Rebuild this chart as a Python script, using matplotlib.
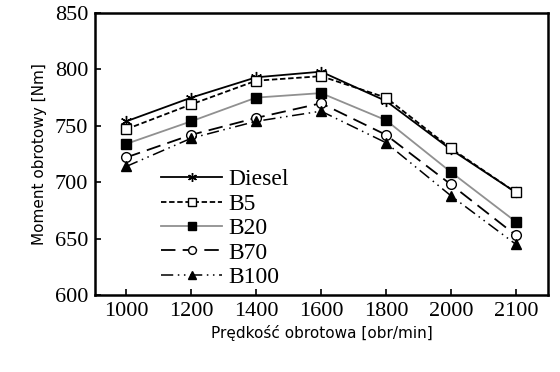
import matplotlib
matplotlib.use("Agg")
import matplotlib.pyplot as plt

# engine speed categories [obr/min]
speeds = ["1000", "1200", "1400", "1600", "1800", "2000", "2100"]

# torque [Nm]
diesel = [754, 775, 793, 798, 772, 729, 691]
b5     = [747, 769, 790, 794, 775, 730, 691]
b20    = [734, 754, 775, 779, 755, 709, 665]
b70    = [722, 742, 757, 770, 742, 698, 653]
b100   = [714, 739, 754, 763, 735, 688, 645]

fig = plt.figure(figsize=(5.6, 3.72), dpi=100)
ax = fig.add_axes([0.170, 0.207, 0.809, 0.758])

x = list(range(len(speeds)))
serif = "Liberation Serif"

ax.plot(x, diesel, color="black", lw=1.3, ls="-",
        marker=(6, 2, 0), ms=8, mew=1.0, label="Diesel")
ax.plot(x, b5, color="black", lw=1.3, ls=(0, (3, 1.5)),
        marker="s", ms=7, mfc="white", mec="black", mew=1.0, label="B5")
ax.plot(x, b20, color="#909090", lw=1.3, ls="-",
        marker="s", ms=7, mfc="black", mec="black", label="B20")
ax.plot(x, b70, color="black", lw=1.3, ls=(0, (8, 4)),
        marker="o", ms=7, mfc="white", mec="black", mew=1.0, label="B70")
ax.plot(x, b100, color="black", lw=1.1, ls=(0, (8, 3, 1, 3, 1, 3)),
        marker="^", ms=7, mfc="black", mec="black", label="B100")

ax.set_xlim(-0.48, 6.5)
ax.set_ylim(600, 850)
ax.set_xticks(x)
ax.set_xticklabels(speeds, family=serif, fontsize=16)
ax.set_yticks([600, 650, 700, 750, 800, 850])
ax.set_yticklabels(["600", "650", "700", "750", "800", "850"], family=serif, fontsize=16)
ax.tick_params(direction="in", length=4, width=1.2, pad=5)
for s in ax.spines.values():
    s.set_linewidth(1.8)

ax.set_xlabel("Prędkość obrotowa [obr/min]", fontsize=11, labelpad=3)
ax.set_ylabel("Moment obrotowy [Nm]", fontsize=11, labelpad=6)

leg = ax.legend(loc="lower left", bbox_to_anchor=(0.115, -0.025), frameon=False,
                prop={"family": serif, "size": 17}, handlelength=2.55,
                handletextpad=0.3, labelspacing=0.12, borderaxespad=0.2,
                markerscale=0.8)

fig.savefig("out.png", dpi=100)
